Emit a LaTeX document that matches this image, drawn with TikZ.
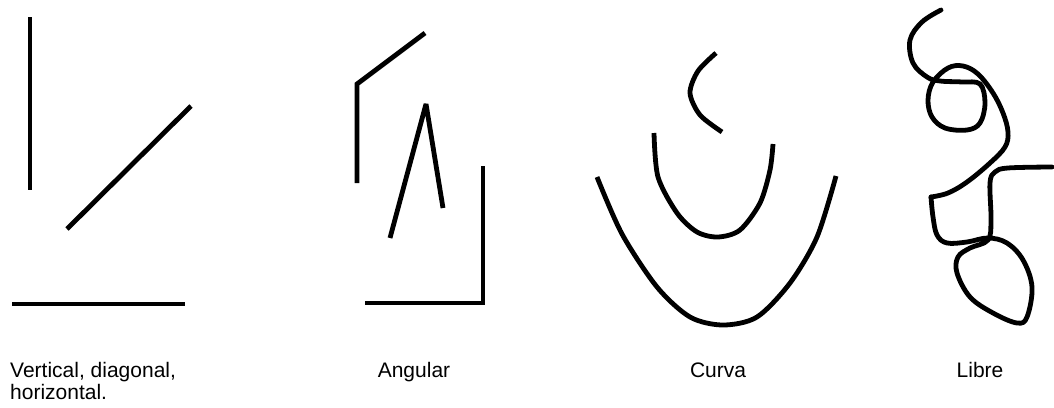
\documentclass[tikz,border=0pt]{standalone}
\usepackage{fontspec}
\setmainfont{Liberation Sans}

\begin{document}
\begin{tikzpicture}[
    x=1pt, y=-1pt,
    stroke/.style={line width=4.8pt},
    free stroke/.style={line width=4.8pt, line join=round, line cap=round},
    caption/.style={font=\fontsize{21}{20}\selectfont, inner sep=0pt, anchor=base}
]
\useasboundingbox (0,0) rectangle (1054,407);

% ==================== VERTICAL, DIAGONAL, HORIZONTAL ====================
\draw[stroke] (30,17) -- (30,190);
\draw[stroke] (67,229) -- (191,106);
\draw[stroke] (12,304) -- (185,304);
\node[caption, anchor=north west, align=left] (lblvdh) at (10,362) {Vertical, diagonal,\\[2pt]horizontal.};

% ==================== ANGULAR ====================
\draw[stroke] (357,183) -- (357,84) -- (425,33);
\draw[stroke, line join=bevel] (390,238) -- (426,104) -- (443,208);
\draw[stroke] (483,166) -- (483,303) -- (365,303);
\node[caption] (lblang) at (414,377) {Angular};

% ==================== CURVA ====================
\draw[stroke] plot[smooth] coordinates {(716,53) (698,71) (690,93) (700,115) (722,132)};
\draw[stroke] plot[smooth] coordinates {(654,133) (658,177) (677,213) (697,232) (718,237)
    (740,230) (760,203) (770,170) (773,144)};
\draw[stroke] plot[smooth] coordinates {(597,177) (622,234) (657,287) (690,317) (723,325)
    (757,317) (790,283) (817,237) (836,176)};
\node[caption] (lblcurva) at (718,377) {Curva};

% ==================== LIBRE ====================
\draw[free stroke] plot[smooth, tension=0.6] coordinates {(941,10) (922,22) (910,40) (913,63)
    (927,77) (940,81) (962,82) (980,84) (985,103) (980,123) (967,130) (945,128) (932,117)
    (928,100) (933,82) (948,68) (963,66) (978,74) (993,93) (1003,113) (1008,132) (1005,147)
    (990,163) (967,182) (948,193) (931,197)};
\draw[free stroke] plot[smooth, tension=0.6] coordinates {(931,197) (933,217) (937,235)
    (947,243) (967,242) (988,238) (1007,243) (1023,260) (1032,287) (1027,317) (1017,323)
    (993,313) (970,297) (957,273) (958,257) (970,248) (988,240) (991,220) (990,183)
    (995,172) (1008,168) (1052,167)};
\node[caption] (lbllibre) at (980,377) {Libre};

\end{tikzpicture}
\end{document}
